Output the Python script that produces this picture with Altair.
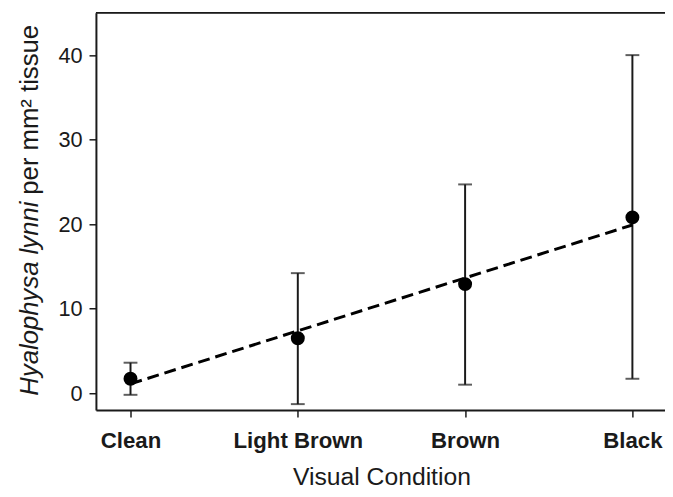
import altair as alt
import pandas as pd

categories = ["Clean", "Light Brown", "Brown", "Black"]
means = [1.7, 6.5, 12.9, 20.8]
upper = [3.6, 14.2, 24.7, 40.0]
lower = [-0.2, -1.3, 1.0, 1.7]
trend_cats = ["Clean", "Black"]
trend_vals = [1.1, 19.9]
y_ticks = [0, 10, 20, 30, 40]

pos = {c: i for i, c in enumerate(categories)}
df = pd.DataFrame({"cond": categories, "idx": [pos[c] for c in categories],
                   "mean": means, "hi": upper, "lo": lower})
trend = pd.DataFrame({"cond": trend_cats, "idx": [pos[c] for c in trend_cats], "val": trend_vals})

W, H = 576, 402
FONT = "Liberation Sans"
INK = "#1a1a1a"

label_expr = "[" + ",".join("'%s'" % c for c in categories) + "][round(datum.value)]"

xscale = alt.Scale(domain=[-0.2067, 3.1949], nice=False, zero=False)
yscale = alt.Scale(domain=[-2, 45], nice=False, zero=False)

xaxis = alt.Axis(
    title="Visual Condition", titleFont=FONT, titleFontSize=25, titleFontWeight="normal",
    titleColor=INK, titleX=289, titleY=75, titleAlign="center", titleBaseline="alphabetic",
    values=list(range(len(categories))), labelExpr=label_expr,
    labelFont=FONT, labelFontSize=22.5, labelFontWeight="bold", labelColor=INK, labelPadding=13,
    labelAngle=0, labelFlush=False, labelOverlap=False,
    ticks=True, tickSize=7, tickWidth=1.5, tickColor=INK,
    domainColor=INK, domainWidth=2, grid=False,
)
yaxis = alt.Axis(
    title=None, values=y_ticks, labelFont=FONT, labelFontSize=22, labelColor=INK,
    labelPadding=7, tickSize=7, tickWidth=1.5, tickColor=INK,
    domainColor=INK, domainWidth=2, grid=False,
)

base = alt.Chart(df)

rules = base.mark_rule(color=INK, strokeWidth=2).encode(
    x=alt.X("idx:Q", scale=xscale, axis=xaxis),
    y=alt.Y("lo:Q", scale=yscale, axis=yaxis),
    y2="hi:Q",
)
cap_hi = base.mark_tick(color=INK, orient="horizontal", size=14, thickness=2).encode(
    x=alt.X("idx:Q", scale=xscale),
    y=alt.Y("hi:Q", scale=yscale),
)
cap_lo = base.mark_tick(color=INK, orient="horizontal", size=14, thickness=2).encode(
    x=alt.X("idx:Q", scale=xscale),
    y=alt.Y("lo:Q", scale=yscale),
)
line = alt.Chart(trend).mark_line(color="#000000", strokeWidth=3, strokeDash=[12, 6]).encode(
    x=alt.X("idx:Q", scale=xscale),
    y=alt.Y("val:Q", scale=yscale),
)
pts = base.mark_circle(color="#000000", opacity=1, size=200).encode(
    x=alt.X("idx:Q", scale=xscale),
    y=alt.Y("mean:Q", scale=yscale),
)

top_line = alt.Chart(pd.DataFrame({"a": [0]})).mark_rule(color=INK, strokeWidth=2).encode(
    x=alt.value(0), x2=alt.value(W), y=alt.value(0)
)

title_df = pd.DataFrame({"a": [0]})
t_italic = alt.Chart(title_df).mark_text(
    text="Hyalophysa lynni", font=FONT, fontSize=26, fontStyle="italic", color=INK,
    angle=270, align="right", baseline="alphabetic",
).encode(x=alt.value(-59), y=alt.value(191))
t_normal = alt.Chart(title_df).mark_text(
    text="per mm\u00b2 tissue", font=FONT, fontSize=26, color=INK,
    angle=270, align="left", baseline="alphabetic",
).encode(x=alt.value(-59), y=alt.value(184))

chart = alt.layer(rules, cap_hi, cap_lo, line, pts, top_line, t_italic, t_normal).properties(
    width=W, height=H,
    padding={"left": 89, "top": 2, "right": 0, "bottom": 77},
    autosize=alt.AutoSizeParams(type="none"),
).configure_view(stroke=None).configure(background="white")

chart.save("out.html", embed_options={"renderer": "svg", "actions": False})
